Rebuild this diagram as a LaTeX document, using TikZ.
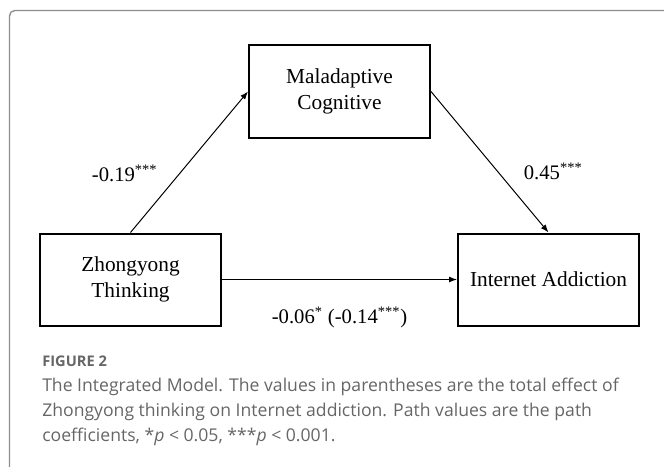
\documentclass[tikz,border=0pt]{standalone}
\usepackage{fontspec}
\setmainfont{Liberation Serif}
\newfontfamily\captionsans{Open Sans}
\usepackage{xcolor}
\usepackage{tikz}
\usetikzlibrary{arrows.meta,positioning,calc}
\definecolor{FrameGray}{HTML}{8C8C8C}
\definecolor{CaptionGray}{HTML}{666666}
\newcommand{\sig}[1]{\textsuperscript{#1}}

\begin{document}
\begin{tikzpicture}[
  x=0.75pt,y=-0.75pt,
  box/.style={draw=black,line width=1.5pt,align=center,minimum width=135.75pt,
              minimum height=69pt,font=\fontsize{16}{20}\selectfont},
  lbl/.style={inner sep=0pt,font=\fontsize{15.5}{18}\selectfont},
  arr/.style={-{Latex[length=6pt,width=4.5pt]},line width=0.75pt},
  outline/.style={draw=FrameGray,line width=1pt,rounded corners=4pt},
  captext/.style={inner sep=0pt,text=CaptionGray,anchor=west}
]
\useasboundingbox (0,0) rectangle (664,467);
\draw[outline] (9.5,467) |- (664,10.5);
\node[box] (zhong) at (130.5,279.5) {Zhongyong\\Thinking};
\node[box,right=176.25pt of zhong] (internet) {Internet Addiction};
\coordinate (top) at ($(zhong.north)!0.5!(internet.north)$);
\node[box,above=70.5pt of top] (malad) {Maladaptive\\Cognitive};
\draw[arr] (zhong.north) -- node[lbl,pos=0.42,left=16.5pt] {-0.19\sig{***}} (malad.west);
\draw[arr] (malad.east) -- node[lbl,pos=0.565,right=19.5pt] {0.45\sig{***}} (internet.north);
\draw[arr] (zhong) -- node[lbl,below=20pt] {-0.06\sig{*} (-0.14\sig{***})} (internet);
\node[captext,font=\captionsans\bfseries\fontsize{11}{13}\selectfont] (figlabel) at (42,361) {FIGURE 2};
\node[captext,align=left,font=\captionsans\fontsize{13.2}{18.8}\selectfont,
      below right=8pt and 0pt of figlabel.south west] (caption)
 {The Integrated Model. The values in parentheses are the total effect of\\
  Zhongyong thinking on Internet addiction. Path values are the path\\
  coefficients, *\textit{p} < 0.05, ***\textit{p} < 0.001.};
\end{tikzpicture}
\end{document}
